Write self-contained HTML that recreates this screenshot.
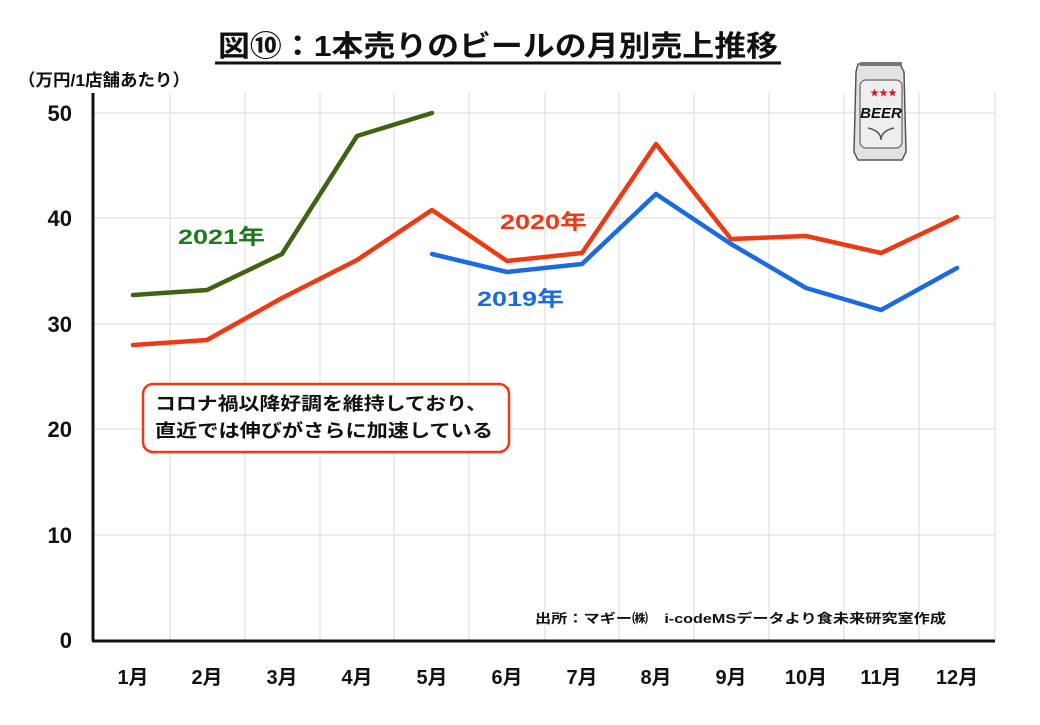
<!DOCTYPE html>
<html><head><meta charset="utf-8"><style>
body{margin:0;background:#fff;}
svg text{font-family:"Liberation Sans","Noto Sans CJK JP",sans-serif;font-weight:bold;}
</style></head><body>
<svg width="1040" height="720" viewBox="0 0 1040 720" xmlns="http://www.w3.org/2000/svg">
<rect width="1040" height="720" fill="#fff"/>
<text x="218" y="56" font-size="29" fill="#111" textLength="560" lengthAdjust="spacingAndGlyphs">図⑩：1本売りのビールの月別売上推移</text>
<line x1="215" y1="63" x2="781" y2="63" stroke="#111" stroke-width="3"/>
<text x="18" y="86" font-size="17" fill="#111" textLength="172" lengthAdjust="spacingAndGlyphs">（万円/1店舗あたり）</text>
<g stroke="#e0e0e0" stroke-width="1.2">
<line x1="93" y1="113" x2="995" y2="113"/><line x1="93" y1="218" x2="995" y2="218"/><line x1="93" y1="324" x2="995" y2="324"/><line x1="93" y1="429" x2="995" y2="429"/><line x1="93" y1="535" x2="995" y2="535"/>
<line x1="170" y1="93" x2="170" y2="640"/><line x1="245" y1="93" x2="245" y2="640"/><line x1="320" y1="93" x2="320" y2="640"/><line x1="394" y1="93" x2="394" y2="640"/><line x1="469" y1="93" x2="469" y2="640"/><line x1="545" y1="93" x2="545" y2="640"/><line x1="619" y1="93" x2="619" y2="640"/><line x1="694" y1="93" x2="694" y2="640"/><line x1="769" y1="93" x2="769" y2="640"/><line x1="844" y1="93" x2="844" y2="640"/><line x1="919" y1="93" x2="919" y2="640"/><line x1="995" y1="93" x2="995" y2="640"/>
</g>
<line x1="93" y1="93" x2="93" y2="641" stroke="#111" stroke-width="3"/>
<line x1="92" y1="641" x2="995" y2="641" stroke="#111" stroke-width="3"/>
<g font-size="22" fill="#111" text-anchor="end">
<text x="72" y="121">50</text><text x="72" y="226">40</text><text x="72" y="332">30</text><text x="72" y="437">20</text><text x="72" y="543">10</text><text x="72" y="648">0</text>
</g>
<g font-size="20" fill="#111" text-anchor="middle">
<text x="133" y="684">1月</text><text x="207" y="684">2月</text><text x="282" y="684">3月</text><text x="357" y="684">4月</text><text x="432" y="684">5月</text><text x="507" y="684">6月</text><text x="582" y="684">7月</text><text x="656" y="684">8月</text><text x="731" y="684">9月</text><text x="806" y="684">10月</text><text x="881" y="684">11月</text><text x="957" y="684">12月</text>
</g>
<g fill="none" stroke-width="4.5" stroke-linejoin="round" stroke-linecap="round">
<polyline stroke="#1a6be0" points="432,254 507,272 582,264 656,194 731,244 806,288 881,310 957,268"/>
<polyline stroke="#ee3a14" points="133,345 207,340 282,298 357,260 432,210 507,261 582,253 656,144 731,239 806,236 881,253 957,217"/>
<polyline stroke="#3d6410" points="133,295 207,290 282,254 357,136 432,113"/>
</g>
<text x="178" y="244" font-size="21" fill="#1f7a1f" textLength="87" lengthAdjust="spacingAndGlyphs">2021年</text>
<text x="500" y="229" font-size="21" fill="#ee3a14" textLength="87" lengthAdjust="spacingAndGlyphs">2020年</text>
<text x="477" y="306" font-size="21" fill="#1a6be0" textLength="87" lengthAdjust="spacingAndGlyphs">2019年</text>
<rect x="143" y="384" width="366" height="68" rx="10" fill="#fff" stroke="#ee3a14" stroke-width="2.5"/>
<text x="155" y="410" font-size="18" fill="#111" textLength="332" lengthAdjust="spacingAndGlyphs">コロナ禍以降好調を維持しており、</text>
<text x="155" y="437" font-size="18" fill="#111" textLength="338" lengthAdjust="spacingAndGlyphs">直近では伸びがさらに加速している</text>
<text x="535" y="623" font-size="13" fill="#111" textLength="411" lengthAdjust="spacingAndGlyphs">出所：マギー㈱　i-codeMSデータより食未来研究室作成</text>
<g>
<path d="M858,64 L900,64 L904,72 L906,152 L902,160 L858,160 L854,152 L856,72 Z" fill="#e2e2e2" stroke="#555" stroke-width="1.5"/>
<rect x="860" y="62" width="42" height="4" fill="#777"/>
<rect x="860" y="80" width="42" height="68" rx="6" fill="#eee" stroke="#666" stroke-width="1.2"/>
<text x="870" y="96" font-size="9" fill="#e0101a">★★★</text>
<text x="881" y="118" font-size="15" fill="#111" text-anchor="middle" font-style="italic">BEER</text>
<path d="M868,128 Q881,131 881,140 Q881,131 894,128" fill="none" stroke="#555" stroke-width="1.5"/>
</g>
</svg>
</body></html>
